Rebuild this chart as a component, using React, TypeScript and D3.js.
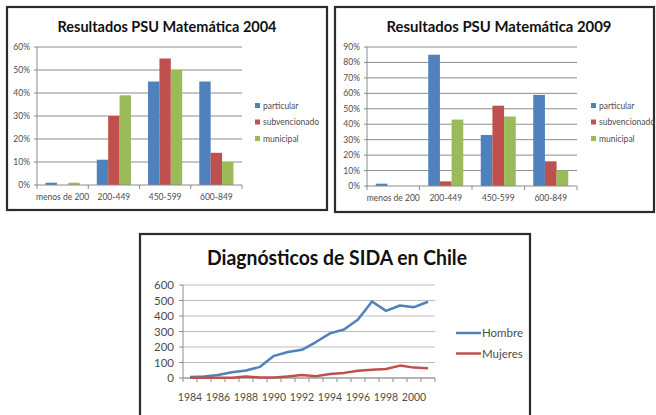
import * as d3 from "d3";

// PSU charts
const categories = ["menos de 200", "200-449", "450-599", "600-849"];
const seriesNames = ["particular", "subvencionado", "municipal"];
const seriesColors = ["#4f81bd", "#c0504d", "#9bbb59"];

const particular2004 = [1, 11, 45, 45];
const subvencionado2004 = [0, 30, 55, 14];
const municipal2004 = [1, 39, 50, 10];
const ticks2004 = [0, 10, 20, 30, 40, 50, 60];

const particular2009 = [1.5, 85, 33, 59];
const subvencionado2009 = [0, 3, 52, 16];
const municipal2009 = [0, 43, 45, 10];
const ticks2009 = [0, 10, 20, 30, 40, 50, 60, 70, 80, 90];

// SIDA chart
const years = [1984, 1985, 1986, 1987, 1988, 1989, 1990, 1991, 1992, 1993, 1994, 1995, 1996, 1997, 1998, 1999, 2000, 2001];
const hombre = [6, 9, 20, 37, 48, 72, 143, 168, 182, 232, 288, 313, 377, 494, 433, 468, 457, 492];
const mujeres = [2, 2, 2, 2, 10, 3, 3, 10, 19, 12, 26, 33, 47, 54, 58, 80, 67, 63];
const yearLabels = [1984, 1986, 1988, 1990, 1992, 1994, 1996, 1998, 2000];
const sidaTicks = [0, 100, 200, 300, 400, 500, 600];
const lineNames = ["Hombre", "Mujeres"];

const FONT = "Lato, 'Open Sans', sans-serif";
const LABEL = "#4d4d4d";

type Box = { left: number; right: number; top: number; bottom: number };

function Frame({ b }: { b: Box }) {
  return (
    <rect x={b.left} y={b.top} width={b.right - b.left} height={b.bottom - b.top}
      fill="#fff" stroke="#2b2b2b" strokeWidth={2.2} />
  );
}

function BarChart(props: {
  frame: Box; plot: Box; title: string; titleX: number; titleW: number;
  ticks: number[]; values: number[][]; legendX: number;
}) {
  const { frame, plot, ticks, values } = props;
  const x0 = d3.scaleBand<string>().domain(categories)
    .range([plot.left, plot.right]).paddingInner(1 / 3).paddingOuter(1 / 6);
  const x1 = d3.scaleBand<string>().domain(seriesNames).range([0, x0.bandwidth()]);
  const y = d3.scaleLinear().domain([0, d3.max(ticks) as number]).range([plot.bottom, plot.top]);
  const step = x0.step();

  return (
    <g>
      <Frame b={frame} />
      <text x={props.titleX} y={32} textAnchor="middle" fontFamily={FONT} fontWeight="bold"
        fontSize={15} fill="#111" textLength={props.titleW} lengthAdjust="spacingAndGlyphs">
        {props.title}
      </text>
      {ticks.map(t => (
        <g key={t}>
          {t > 0 && <line x1={plot.left} x2={plot.right} y1={y(t)} y2={y(t)} stroke="#8c8c8c" strokeWidth={1} />}
          <line x1={plot.left - 3} x2={plot.left} y1={y(t)} y2={y(t)} stroke="#8c8c8c" />
          <text x={plot.left - 7} y={y(t)} dy="0.35em" textAnchor="end" fontFamily={FONT}
            fontSize={8.5} fill={LABEL}>{t}%</text>
        </g>
      ))}
      {values.map((vals, si) => vals.map((v, ci) => (
        <rect key={`${si}-${ci}`} x={(x0(categories[ci]) as number) + (x1(seriesNames[si]) as number)}
          y={y(v)} width={x1.bandwidth()} height={plot.bottom - y(v)} fill={seriesColors[si]} />
      )))}
      <line x1={plot.left} x2={plot.left} y1={plot.top} y2={plot.bottom} stroke="#8c8c8c" />
      <line x1={plot.left} x2={plot.right} y1={plot.bottom} y2={plot.bottom} stroke="#8c8c8c" />
      {d3.range(categories.length + 1).map(i => (
        <line key={i} x1={plot.left + i * step} x2={plot.left + i * step} y1={plot.bottom}
          y2={plot.bottom + 4} stroke="#8c8c8c" />
      ))}
      {categories.map(c => (
        <text key={c} x={(x0(c) as number) + x0.bandwidth() / 2} y={plot.bottom + 15}
          textAnchor="middle" fontFamily={FONT} fontSize={8.5} fill={LABEL}>{c}</text>
      ))}
      {seriesNames.map((s, i) => (
        <g key={s} transform={`translate(${props.legendX},${106 + i * 16.5})`}>
          <rect x={0} y={-3} width={5} height={5} fill={seriesColors[i]} />
          <text x={8} y={0} dy="0.35em" fontFamily={FONT} fontSize={8.5} fill={LABEL}>{s}</text>
        </g>
      ))}
    </g>
  );
}

function LineChart() {
  const frame: Box = { left: 140, right: 530, top: 234, bottom: 430 };
  const plot: Box = { left: 183, right: 435, top: 285, bottom: 378 };
  const x = d3.scalePoint<number>().domain(years).range([plot.left, plot.right]).padding(0.5);
  const y = d3.scaleLinear().domain([0, 600]).range([plot.bottom, plot.top]);
  const step = x.step();
  const series = [hombre, mujeres];
  const line = d3.line<number>().x((_, i) => x(years[i]) as number).y(d => y(d));

  return (
    <g>
      <Frame b={frame} />
      <text x={337} y={265} textAnchor="middle" fontFamily={FONT} fontWeight="bold" fontSize={21} fill="#111"
        textLength={260} lengthAdjust="spacingAndGlyphs">Diagnósticos de SIDA en Chile</text>
      {sidaTicks.map(t => (
        <g key={t}>
          <line x1={plot.left} x2={plot.right} y1={y(t)} y2={y(t)} stroke="#bdbdbd" />
          <line x1={plot.left - 4} x2={plot.left} y1={y(t)} y2={y(t)} stroke="#8c8c8c" />
          <text x={plot.left - 9} y={y(t)} dy="0.35em" textAnchor="end" fontFamily={FONT}
            fontSize={11.5} fill={LABEL}>{t}</text>
        </g>
      ))}
      <line x1={plot.left} x2={plot.left} y1={plot.top} y2={plot.bottom} stroke="#8c8c8c" />
      <line x1={plot.left} x2={plot.right} y1={plot.bottom} y2={plot.bottom} stroke="#8c8c8c" />
      {d3.range(years.length + 1).map(i => (
        <line key={i} x1={plot.left + i * step} x2={plot.left + i * step} y1={plot.bottom}
          y2={plot.bottom + 4} stroke="#8c8c8c" />
      ))}
      {yearLabels.map(yr => (
        <text key={yr} x={x(yr) as number} y={plot.bottom + 23} textAnchor="middle"
          fontFamily={FONT} fontSize={10.5} fill={LABEL}>{yr}</text>
      ))}
      {series.map((s, i) => (
        <path key={i} d={line(s) as string} fill="none" stroke={seriesColors[i]} strokeWidth={2.5}
          strokeLinejoin="round" />
      ))}
      {lineNames.map((n, i) => (
        <g key={n} transform={`translate(456,${333 + i * 20.5})`}>
          <line x1={0} x2={25} y1={0} y2={0} stroke={seriesColors[i]} strokeWidth={2.5} />
          <text x={26} y={0} dy="0.35em" fontFamily={FONT} fontSize={11.5} fill={LABEL}>{n}</text>
        </g>
      ))}
    </g>
  );
}

export default function App() {
  return (
    <svg width={656} height={415} style={{ position: "fixed", left: 0, top: 0, background: "#fff" }}>
      <rect width={656} height={415} fill="#fff" />
      <BarChart frame={{ left: 7, right: 327, top: 7, bottom: 210 }}
        plot={{ left: 37, right: 242, top: 47, bottom: 185 }}
        title="Resultados PSU Matemática 2004" titleX={167} titleW={219}
        ticks={ticks2004} values={[particular2004, subvencionado2004, municipal2004]} legendX={255} />
      <BarChart frame={{ left: 335, right: 654, top: 7, bottom: 212 }}
        plot={{ left: 367, right: 577, top: 47, bottom: 186 }}
        title="Resultados PSU Matemática 2009" titleX={499} titleW={225}
        ticks={ticks2009} values={[particular2009, subvencionado2009, municipal2009]} legendX={591} />
      <LineChart />
    </svg>
  );
}
